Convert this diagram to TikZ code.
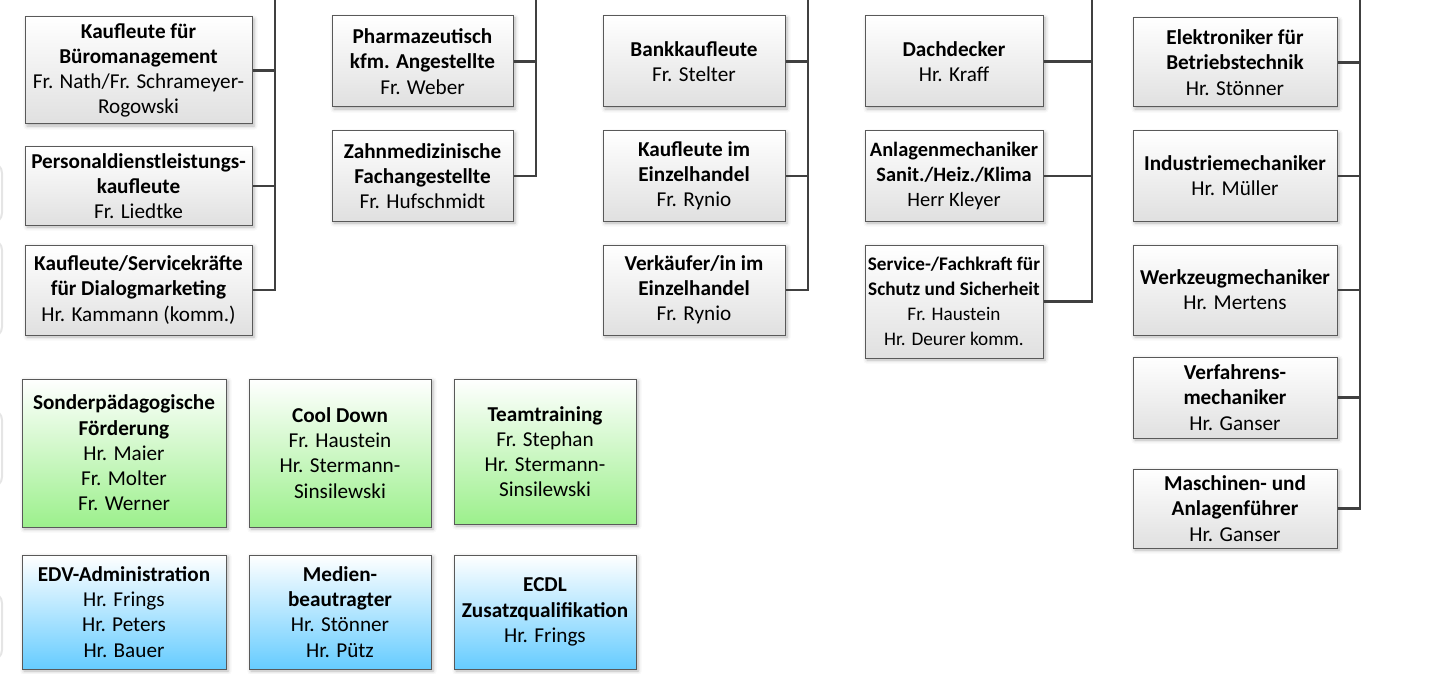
\documentclass[tikz,border=0pt]{standalone}
\usepackage{fontspec}
\setmainfont{Carlito}
\definecolor{BoxGray}{RGB}{224,224,224}
\definecolor{BoxGreen}{RGB}{156,240,140}
\definecolor{BoxBlue}{RGB}{102,204,255}
\definecolor{LineGray}{RGB}{64,64,64}
\usetikzlibrary{positioning,shadows.blur}

\begin{document}
\begin{tikzpicture}[
    x=0.5pt, y=-0.5pt,
    node distance=11.5pt,
    every node/.style={font=\fontsize{10.6}{12.6}\selectfont},
    box/.style={rectangle, draw=black!65, line width=0.5pt, top color=white, bottom color=BoxGray, align=center, inner xsep=0.5pt, inner ysep=2pt,
      blur shadow={shadow xshift=1pt, shadow yshift=-1pt, shadow blur steps=4, shadow opacity=30}},
    greenbox/.style={box, bottom color=BoxGreen},
    bluebox/.style={box, bottom color=BoxBlue},
    conn/.style={LineGray, line width=1.1pt}
  ]
    \useasboundingbox (0,0) rectangle (1430,674);

    % faint cut-off shapes at the left edge
    \draw[black!10, line width=1pt, rounded corners=5pt] (-20,163) -- (2,163) -- (2,223) -- (-20,223);
    \draw[black!10, line width=1pt, rounded corners=5pt] (-20,240) -- (2,240) -- (2,337) -- (-20,337);
    \draw[black!10, line width=1pt, rounded corners=5pt] (-20,410) -- (2,410) -- (2,487) -- (-20,487);
    \draw[black!10, line width=1pt, rounded corners=5pt] (-20,593) -- (2,593) -- (2,660) -- (-20,660);

    % column 1
    \node[box, minimum width=113.5pt, minimum height=53.5pt] (kfb) at (138.5,70.5) {\textbf{Kaufleute für}\\\textbf{Büromanagement}\\Fr. Nath/Fr. Schrameyer-\\Rogowski};
    \node[box, minimum width=113.5pt, minimum height=39pt, below=11pt of kfb] (pdl) {\textbf{Personaldienstleistungs-}\\\textbf{kaufleute}\\Fr. Liedtke};
    \node[box, minimum width=113.5pt, minimum height=45pt, below=9.5pt of pdl] (kfd) {\textbf{Kaufleute/Servicekräfte}\\\textbf{für Dialogmarketing}\\Hr. Kammann (komm.)};

    % column 2
    \node[box, minimum width=90.5pt, minimum height=45.5pt] (pka) at (422.5,61.5) {\textbf{Pharmazeutisch}\\\textbf{kfm. Angestellte}\\Fr. Weber};
    \node[box, minimum width=90.5pt, minimum height=45pt, below=of pka] (zfa) {\textbf{Zahnmedizinische}\\\textbf{Fachangestellte}\\Fr. Hufschmidt};

    % column 3
    \node[box, minimum width=91pt, minimum height=45.5pt] (bank) at (694,61.5) {\textbf{Bankkaufleute}\\Fr. Stelter};
    \node[box, minimum width=91pt, minimum height=45pt, below=of bank] (kie) {\textbf{Kaufleute im}\\\textbf{Einzelhandel}\\Fr. Rynio};
    \node[box, minimum width=91pt, minimum height=45pt, below=of kie] (vie) {\textbf{Verkäufer/in im}\\\textbf{Einzelhandel}\\Fr. Rynio};

    % column 4
    \node[box, minimum width=89pt, minimum height=45.5pt] (dach) at (954,61.5) {\textbf{Dachdecker}\\Hr. Kraff};
    \node[box, minimum width=89pt, minimum height=45pt, below=of dach, font=\fontsize{10.2}{12.6}\selectfont] (anl) {\textbf{Anlagenmechaniker}\\\textbf{Sanit./Heiz./Klima}\\Herr Kleyer};
    \node[box, minimum width=89pt, minimum height=56.5pt, below=of anl, font=\fontsize{9.6}{12.6}\selectfont] (ssh) {\textbf{Service-/Fachkraft für}\\\textbf{Schutz und Sicherheit}\\Fr. Haustein\\Hr. Deurer komm.};

    % column 5
    \node[box, minimum width=102pt, minimum height=44.5pt] (elb) at (1235,62.5) {\textbf{Elektroniker für}\\\textbf{Betriebstechnik}\\Hr. Stönner};
    \node[box, minimum width=102pt, minimum height=45pt, below=of elb] (ind) {\textbf{Industriemechaniker}\\Hr. Müller};
    \node[box, minimum width=102pt, minimum height=45pt, below=of ind] (wzm) {\textbf{Werkzeugmechaniker}\\Hr. Mertens};
    \node[box, minimum width=102pt, minimum height=40.5pt, below=10.5pt of wzm] (vfm) {\textbf{Verfahrens-}\\\textbf{mechaniker}\\Hr. Ganser};
    \node[box, minimum width=102pt, minimum height=39.5pt, below=15pt of vfm] (maf) {\textbf{Maschinen- und}\\\textbf{Anlagenführer}\\Hr. Ganser};

    % green row
    \node[greenbox, minimum width=102pt, minimum height=74pt] (spf) at (124,453) {\textbf{Sonderpädagogische}\\\textbf{Förderung}\\Hr. Maier\\Fr. Molter\\Fr. Werner};
    \node[greenbox, minimum width=91pt, minimum height=74pt, right=11pt of spf] (cool) {\textbf{Cool Down}\\Fr. Haustein\\Hr. Stermann-\\Sinsilewski};
    \node[greenbox, minimum width=91pt, minimum height=72.5pt, right=11pt of cool, yshift=0.75pt] (team) {\textbf{Teamtraining}\\Fr. Stephan\\Hr. Stermann-\\Sinsilewski};

    % blue row
    \node[bluebox, minimum width=102pt, minimum height=57pt, below=13.5pt of spf] (edv) {\textbf{EDV-Administration}\\Hr. Frings\\Hr. Peters\\Hr. Bauer};
    \node[bluebox, minimum width=91pt, minimum height=57pt, right=11pt of edv] (med) {\textbf{Medien-}\\\textbf{beautragter}\\Hr. Stönner\\Hr. Pütz};
    \node[bluebox, minimum width=91pt, minimum height=57pt, right=11pt of med] (ecdl) {\textbf{ECDL}\\\textbf{Zusatzqualifikation}\\Hr. Frings};

    % connectors
    \coordinate (t1) at (275,0);
    \coordinate (t2) at (536,0);
    \coordinate (t3) at (808,0);
    \coordinate (t4) at (1092,0);
    \coordinate (t5) at (1360,0);
    \draw[conn] (t1) |- (kfb.east);
    \draw[conn] (t1) |- (pdl.east);
    \draw[conn] (t1) |- (kfd.east);
    \draw[conn] (t2) |- (pka.east);
    \draw[conn] (t2) |- (zfa.east);
    \draw[conn] (t3) |- (bank.east);
    \draw[conn] (t3) |- (kie.east);
    \draw[conn] (t3) |- (vie.east);
    \draw[conn] (t4) |- (dach.east);
    \draw[conn] (t4) |- (anl.east);
    \draw[conn] (t4) |- (ssh.east);
    \draw[conn] (t5) |- (elb.east);
    \draw[conn] (t5) |- (ind.east);
    \draw[conn] (t5) |- (wzm.east);
    \draw[conn] (t5) |- (vfm.east);
    \draw[conn] (t5) |- (maf.east);
  \end{tikzpicture}
\end{document}
